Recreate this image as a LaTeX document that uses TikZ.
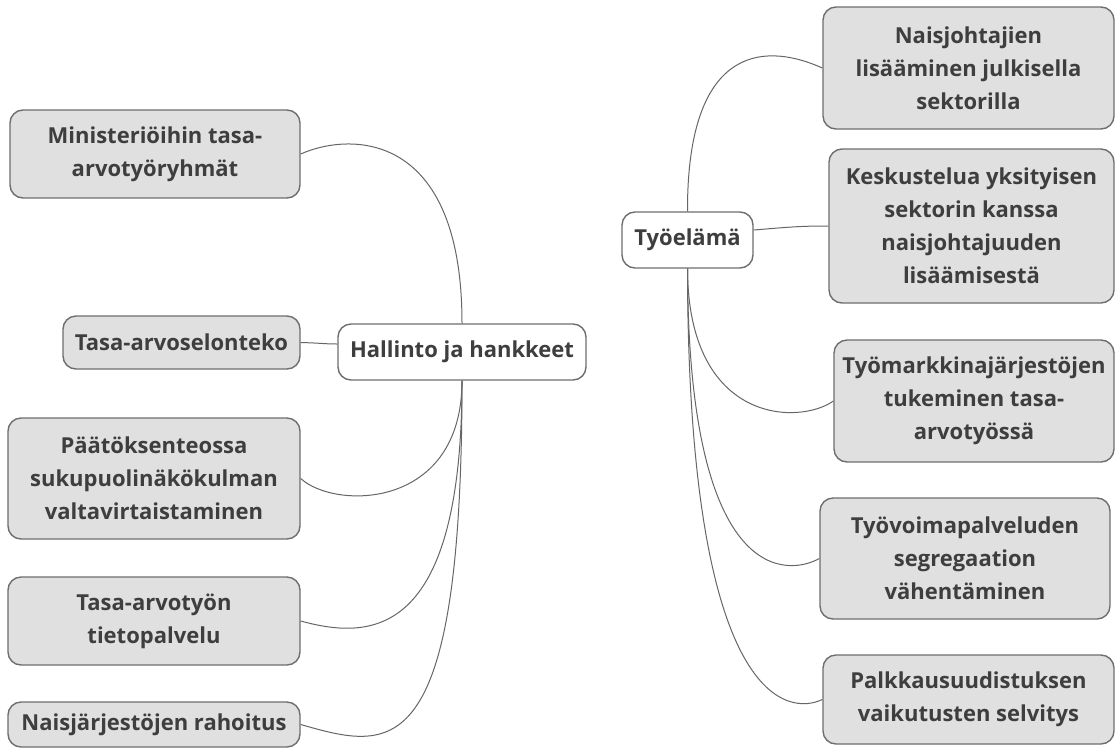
\documentclass[tikz,border=0pt]{standalone}
\usepackage{fontspec}
\setmainfont{Open Sans}
\definecolor{boxgray}{HTML}{E0E0E0}
\definecolor{bordergray}{HTML}{6E6E6E}
\definecolor{linegray}{HTML}{666666}
\definecolor{textgray}{HTML}{3E3E3E}
\begin{document}
\begin{tikzpicture}[x=1pt,y=-1pt,
  topic/.style={draw=bordergray, line width=1.4pt, rounded corners=13pt,
    align=center, inner sep=0pt, text=textgray,
    font=\fontsize{22}{33}\selectfont\bfseries},
  leaf/.style={topic, fill=boxgray},
  hub/.style={topic, fill=white},
  conn/.style={draw=linegray, line width=1pt}]
\useasboundingbox[fill=white] (0,0) rectangle (1115,753);

% left side
\node[hub, minimum width=248pt, minimum height=56pt] (hall) at (462,352) {Hallinto ja hankkeet};
\node[leaf, minimum width=290pt, minimum height=88pt] (m1) at (155,154) {Ministeriöihin tasa-\\arvotyöryhmät};
\node[leaf, minimum width=237pt, minimum height=53pt] (m2) at (181.5,342.5) {Tasa-arvoselonteko};
\node[leaf, minimum width=292pt, minimum height=121pt] (m3) at (154,478.5) {Päätöksenteossa\\sukupuolinäkökulman\\valtavirtaistaminen};
\node[leaf, minimum width=292pt, minimum height=88pt] (m4) at (154,621) {Tasa-arvotyön\\tietopalvelu};
\node[leaf, minimum width=292pt, minimum height=45pt] (m5) at (154,724.5) {Naisjärjestöjen rahoitus};

% right side
\node[hub, minimum width=131pt, minimum height=56pt] (tyo) at (687.5,240) {Työelämä};
\node[leaf, minimum width=291pt, minimum height=122pt] (r1) at (968.5,68) {Naisjohtajien\\lisääminen julkisella\\sektorilla};
\node[leaf, minimum width=285pt, minimum height=154pt] (r2) at (971.5,226) {Keskustelua yksityisen\\sektorin kanssa\\naisjohtajuuden\\lisäämisestä};
\node[leaf, minimum width=280pt, minimum height=122pt] (r3) at (974,401) {Työmarkkinajärjestöjen\\tukeminen tasa-\\arvotyössä};
\node[leaf, minimum width=290pt, minimum height=121pt] (r4) at (965,558.5) {Työvoimapalveluden\\segregaation\\vähentäminen};
\node[leaf, minimum width=291pt, minimum height=89pt] (r5) at (968.5,699.5) {Palkkausuudistuksen\\vaikutusten selvitys};

% connectors left
\draw[conn] (m1.east) .. controls (350,132) and (462,130) .. (hall.north);
\draw[conn] (m2.east) .. controls (320,343) and (325,344) .. ([yshift=8pt]hall.west);
\draw[conn] (m3.east) .. controls (335,510) and (462,510) .. (hall.south);
\draw[conn] (m4.east) .. controls (370,640) and (462,640) .. (hall.south);
\draw[conn] (m5.east) .. controls (390,750) and (462,770) .. (hall.south);

% connectors right
\draw[conn] (tyo.north) .. controls (687,50) and (760,40) .. (r1.west);
\draw[conn] ([yshift=10pt]tyo.east) .. controls (790,227) and (800,226) .. (r2.west);
\draw[conn] (r3.west) .. controls (800,425) and (688,425) .. (tyo.south);
\draw[conn] (r4.west) .. controls (790,575) and (688,590) .. (tyo.south);
\draw[conn] (r5.west) .. controls (790,715) and (688,710) .. (tyo.south);
\end{tikzpicture}
\end{document}
